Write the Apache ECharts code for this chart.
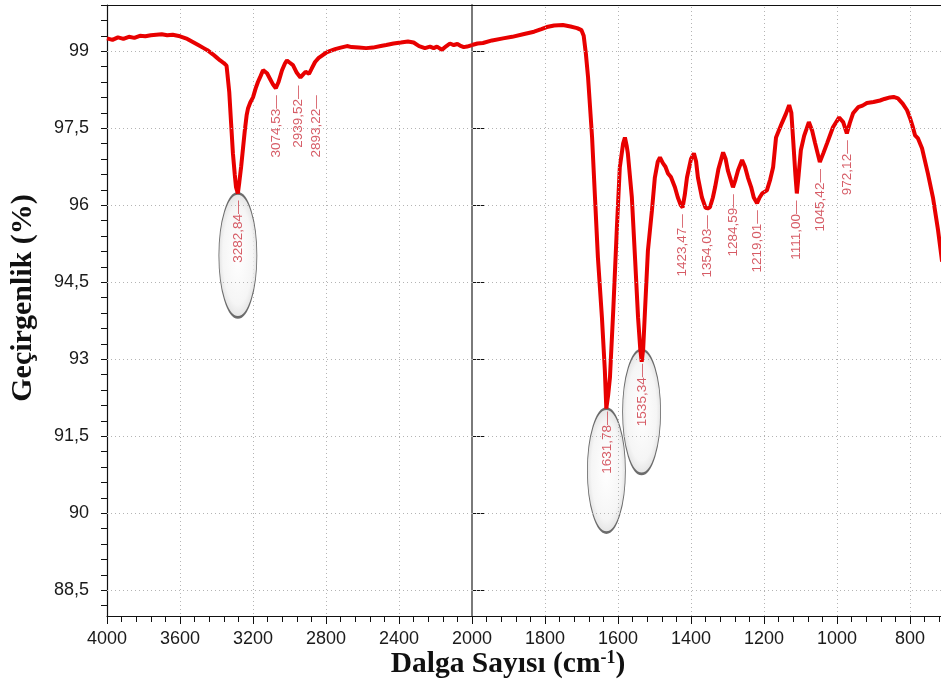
<!DOCTYPE html>
<html style="height: 100%">
  <head>
     <meta charset="utf-8">
  </head>
  <body style="height: 100%; margin: 0; background: #fff">
     <div id="container" style="width: 941px; height: 689px"></div>
     <script type="text/javascript" src="https://cdn.jsdelivr.net/npm/echarts@6/dist/echarts.min.js"></script>
     <script type="text/javascript">
// spectrum (wavenumber cm-1, transmittance %)
var waveNumbers = [
  4000, 3970, 3940, 3910, 3880, 3850, 3820, 3790, 3760, 3730, 3700, 3670, 3640, 3600,
  3560, 3530, 3500, 3470, 3450, 3420, 3400, 3380, 3360, 3345, 3340, 3330, 3320, 3310,
  3300, 3293, 3283, 3275, 3265, 3255, 3245, 3235, 3227, 3215, 3200, 3185, 3173, 3158,
  3145, 3135, 3123, 3105, 3090, 3075, 3060, 3041, 3025, 3014, 3000, 2981, 2960, 2940,
  2925, 2912, 2905, 2893, 2880, 2860, 2840, 2820, 2800, 2780, 2750, 2720, 2685, 2660,
  2620, 2580, 2543, 2500, 2470, 2430, 2390, 2351, 2320, 2290, 2258, 2230, 2210, 2192,
  2175, 2164, 2140, 2121, 2100, 2080, 2066, 2045, 2027, 2000,
  1985, 1970, 1945, 1915, 1890, 1860, 1830, 1810, 1795, 1775, 1751, 1730, 1712, 1700,
  1694, 1688, 1682, 1671, 1663, 1655, 1644, 1636, 1632, 1627, 1622, 1613, 1603, 1595,
  1586, 1581, 1576, 1573, 1562, 1553, 1545, 1539, 1535, 1531, 1526, 1518, 1507, 1499,
  1491, 1485, 1477, 1470, 1463, 1455, 1444, 1436, 1428, 1423, 1417, 1411, 1400, 1392,
  1386, 1381, 1370, 1360, 1354, 1348, 1340, 1334, 1325, 1312, 1305, 1299, 1285, 1278,
  1271, 1260, 1252, 1244, 1235, 1228, 1219, 1212, 1205, 1192, 1183, 1175, 1167, 1151,
  1140, 1131, 1125, 1120, 1114, 1110, 1105, 1099, 1090, 1077, 1068, 1060, 1047, 1037,
  1027, 1011, 994, 983, 973, 965, 956, 942, 930, 918, 900, 882, 870, 855,
  845, 833, 820, 808, 800, 792, 786, 778, 767, 751, 737, 723, 712
];
var transmittance = [
  99.25, 99.22, 99.27, 99.24, 99.28, 99.26, 99.30, 99.29, 99.31, 99.32, 99.33, 99.31, 99.32, 99.29,
  99.24, 99.18, 99.12, 99.06, 99.02, 98.94, 98.88, 98.82, 98.77, 98.72, 98.55, 98.20, 97.60, 97.01,
  96.60, 96.35, 96.23, 96.45, 96.75, 97.10, 97.45, 97.75, 97.89, 98.00, 98.10, 98.28, 98.40, 98.52,
  98.63, 98.62, 98.57, 98.45, 98.35, 98.28, 98.40, 98.63, 98.76, 98.82, 98.78, 98.73, 98.58, 98.49,
  98.55, 98.60, 98.62, 98.56, 98.65, 98.79, 98.87, 98.92, 98.97, 99.00, 99.04, 99.07, 99.10, 99.08,
  99.07, 99.06, 99.07, 99.10, 99.12, 99.15, 99.17, 99.19, 99.17, 99.10, 99.06, 99.09, 99.06, 99.09,
  99.05, 99.03, 99.10, 99.15, 99.12, 99.14, 99.11, 99.08, 99.09, 99.12,
  99.15, 99.16, 99.21, 99.25, 99.28, 99.33, 99.38, 99.43, 99.47, 99.50, 99.51, 99.48, 99.45, 99.41,
  99.30, 98.95, 98.49, 97.32, 96.15, 94.98, 93.81, 92.78, 92.04, 92.30, 92.65, 93.95, 95.57, 96.74,
  97.20, 97.32, 97.15, 97.01, 96.15, 94.93, 93.81, 93.20, 92.95, 93.20, 93.95, 95.12, 95.90, 96.54,
  96.85, 96.93, 96.82, 96.75, 96.62, 96.55, 96.35, 96.15, 96.00, 95.96, 96.20, 96.54, 96.90, 97.01,
  96.85, 96.54, 96.15, 95.95, 95.94, 95.96, 96.15, 96.35, 96.70, 97.03, 96.90, 96.68, 96.35, 96.50,
  96.68, 96.88, 96.75, 96.54, 96.35, 96.15, 96.04, 96.15, 96.23, 96.29, 96.50, 96.74, 97.32, 97.60,
  97.78, 97.95, 97.80, 97.27, 96.60, 96.23, 96.60, 97.07, 97.35, 97.62, 97.45, 97.21, 96.84, 97.02,
  97.21, 97.52, 97.71, 97.62, 97.40, 97.60, 97.79, 97.91, 97.94, 97.99, 98.01, 98.04, 98.07, 98.10,
  98.11, 98.08, 97.98, 97.85, 97.70, 97.52, 97.36, 97.30, 97.11, 96.62, 96.15, 95.51, 94.90
];

// marked peaks
var peakWave = [3282.84, 3074.53, 2939.52, 2893.22, 1631.78, 1535.34, 1423.47, 1354.03, 1284.59, 1219.01, 1111.00, 1045.42, 972.12];
var peakTrans = [96.23, 98.28, 98.49, 98.57, 92.04, 92.95, 95.96, 95.94, 96.35, 96.04, 96.23, 96.84, 97.40];
var circledPeaks = [3282.84, 1631.78, 1535.34];

// axis ticks
var yMajor = [88.5, 90, 91.5, 93, 94.5, 96, 97.5, 99];
var yMinor = [];
for (var t = 88.2; t < 99.95; t += 0.3) yMinor.push(Math.round(t * 10) / 10);
var xLowMajor = [2000, 1800, 1600, 1400, 1200, 1000, 800];
var xLowMinor = [];
for (var w = 2000; w >= 720; w -= 40) xLowMinor.push(w);

// label nudges on screen (px, right/down) where the original leaders are bent
var labelShift = {'2939.52': [-2, 8], '2893.22': [7, 22], '1631.78': [1, 3], '1535.34': [1, 2]};
var ellipseShift = {'3282.84': 62, '1631.78': 62, '1535.34': 50};

var points = waveNumbers.map(function (w, i) { return [w, transmittance[i]]; });
var highPart = points.filter(function (p) { return p[0] >= 2000; });
var lowPart = points.filter(function (p) { return p[0] <= 2000; });

function peakItems(high) {
  var out = [];
  for (var i = 0; i < peakWave.length; i++) {
    if ((peakWave[i] >= 2000) !== high) continue;
    var s = labelShift[peakWave[i].toFixed(2)] || [0, 7];
    // label is turned 90deg, so its offset lives in the turned frame
    out.push({value: [peakWave[i], peakTrans[i]], label: {offset: [-s[1], s[0]]}});
  }
  return out;
}
function ellipseItems(high) {
  var out = [];
  circledPeaks.forEach(function (w) {
    if ((w >= 2000) !== high) return;
    var i = peakWave.indexOf(w);
    out.push({value: [w, peakTrans[i]], symbolOffset: [0, ellipseShift[w.toFixed(2)]]});
  });
  return out;
}

var dom = document.getElementById("container");
var myChart = echarts.init(dom, null, {renderer: 'canvas'});

var tickFont = {fontFamily: 'Liberation Sans', fontSize: 18, color: '#1a1a1a'};
var dotted = {color: '#b4b4b4', type: [1, 3], width: 1};
var ellipsePath = 'path://M1,0C1.552,0,2,0.448,2,1C2,1.552,1.552,2,1,2C0.448,2,0,1.552,0,1C0,0.448,0.448,0,1,0Z';
var plain = function (v) { return String(v); };
var peakLabel = {
  show: true, position: 'inside', rotate: 90, align: 'right', verticalAlign: 'middle',
  fontFamily: 'Liberation Sans', fontSize: 13.5, color: '#cc3340',
  formatter: function (p) { return p.value[0].toFixed(2).replace('.', ',') + '\u2014'; }
};
var ellipseStyle = {
  borderColor: '#4a4a4a', borderWidth: 1.5,
  color: new echarts.graphic.RadialGradient(0.5, 0.5, 0.55, [
    {offset: 0, color: '#ffffff'}, {offset: 0.7, color: '#f3f3f3'}, {offset: 1, color: '#d2d2d2'}
  ])
};

var option = {
  animation: false,
  backgroundColor: '#fff',
  grid: [
    {left: 107, top: 5, bottom: 73, width: 365},
    {left: 472, top: 5, bottom: 73, right: 0}
  ],
  xAxis: [
    {
      type: 'value', gridIndex: 0, position: 'bottom', inverse: true,
      min: 2000, max: 4000, interval: 400,
      axisLine: {lineStyle: {color: '#111', width: 1.2}},
      axisTick: {length: 8, lineStyle: {color: '#111'}},
      minorTick: {show: true, splitNumber: 5, length: 6, lineStyle: {color: '#111'}},
      axisLabel: Object.assign({margin: 14, showMinLabel: false, formatter: plain}, tickFont),
      splitLine: {show: true, lineStyle: dotted}
    },
    {
      type: 'value', gridIndex: 1, position: 'bottom', inverse: true,
      min: 715, max: 2000,
      axisLine: {lineStyle: {color: '#111', width: 1.2}},
      axisTick: {length: 8, customValues: xLowMajor, lineStyle: {color: '#111'}},
      axisLabel: Object.assign({margin: 14, customValues: xLowMajor, formatter: plain}, tickFont),
      splitLine: {show: false}
    },
    {
      type: 'value', gridIndex: 1, position: 'bottom', inverse: true,
      min: 715, max: 2000,
      axisLine: {show: false},
      axisTick: {length: 6, customValues: xLowMinor, lineStyle: {color: '#111'}},
      axisLabel: {show: false}, splitLine: {show: false}
    },
    {
      type: 'value', gridIndex: 0, position: 'top', inverse: true, min: 2000, max: 4000,
      axisLine: {lineStyle: {color: '#111', width: 1.2}},
      axisTick: {show: false}, axisLabel: {show: false}, splitLine: {show: false}
    },
    {
      type: 'value', gridIndex: 1, position: 'top', inverse: true, min: 715, max: 2000,
      axisLine: {lineStyle: {color: '#111', width: 1.2}},
      axisTick: {show: false}, axisLabel: {show: false}, splitLine: {show: false}
    }
  ],
  yAxis: [
    {
      type: 'value', gridIndex: 0, min: 88, max: 99.9,
      axisLine: {show: true, lineStyle: {color: '#111', width: 1.2}},
      axisTick: {show: true, length: 6, customValues: yMinor, lineStyle: {color: '#111'}},
      axisLabel: Object.assign({
        margin: 18, customValues: yMajor,
        formatter: function (v) { return String(v).replace('.', ','); }
      }, tickFont),
      splitLine: {show: false}
    },
    {
      type: 'value', gridIndex: 0, min: 88, max: 99.9,
      axisLine: {show: false},
      axisTick: {show: true, length: 13, customValues: yMajor, lineStyle: {color: '#111'}},
      axisLabel: {show: false}, splitLine: {show: false}
    },
    {
      type: 'value', gridIndex: 1, min: 88, max: 99.9,
      axisLine: {show: true, lineStyle: {color: '#7a7a7a', width: 2}},
      axisTick: {show: false}, axisLabel: {show: false}, splitLine: {show: false}
    }
  ],
  graphic: [
    {
      type: 'text', x: 23, y: 298, rotation: Math.PI / 2, silent: true,
      style: {
        text: 'Geçirgenlik (%)', fill: '#111',
        font: 'bold 30px "Liberation Serif"',
        align: 'center', verticalAlign: 'middle'
      }
    },
    {
      type: 'text', x: 508, y: 664, silent: true,
      style: {
        text: '{a|Dalga Sayısı (cm}{s|-1}{a|)}',
        align: 'center', verticalAlign: 'middle',
        rich: {
          a: {fontFamily: 'Liberation Serif', fontWeight: 'bold', fontSize: 29.5, fill: '#111', color: '#111'},
          s: {fontFamily: 'Liberation Serif', fontWeight: 'bold', fontSize: 18, fill: '#111', color: '#111', verticalAlign: 'top'}
        }
      }
    }
  ],
  series: [
    {
      type: 'line', xAxisIndex: 0, yAxisIndex: 0, data: highPart,
      showSymbol: false, z: 3,
      lineStyle: {color: '#e80000', width: 4},
      markLine: {
        silent: true, symbol: 'none', label: {show: false}, lineStyle: dotted,
        data: yMajor.map(function (v) { return {yAxis: v}; })
      }
    },
    {
      type: 'line', xAxisIndex: 1, yAxisIndex: 2, data: lowPart,
      showSymbol: false, z: 3,
      lineStyle: {color: '#e80000', width: 4},
      markLine: {
        silent: true, symbol: 'none', label: {show: false}, lineStyle: dotted,
        data: yMajor.map(function (v) { return {yAxis: v}; })
          .concat(xLowMajor.slice(1).map(function (v) { return {xAxis: v}; }))
      }
    },
    {
      type: 'scatter', xAxisIndex: 0, yAxisIndex: 0, data: ellipseItems(true),
      symbol: ellipsePath, symbolSize: [38, 124], z: 2, silent: true,
      itemStyle: ellipseStyle
    },
    {
      type: 'scatter', xAxisIndex: 1, yAxisIndex: 2, data: ellipseItems(false),
      symbol: ellipsePath, symbolSize: [38, 124], z: 2, silent: true,
      itemStyle: ellipseStyle
    },
    {
      type: 'scatter', xAxisIndex: 0, yAxisIndex: 0, data: peakItems(true),
      symbolSize: 1, itemStyle: {color: 'transparent'}, z: 5, silent: true,
      label: peakLabel
    },
    {
      type: 'scatter', xAxisIndex: 1, yAxisIndex: 2, data: peakItems(false),
      symbolSize: 1, itemStyle: {color: 'transparent'}, z: 5, silent: true,
      label: peakLabel
    }
  ]
};

if (option && typeof option === "object") {
  myChart.setOption(option, true);
}
     </script>
  </body>
</html>
